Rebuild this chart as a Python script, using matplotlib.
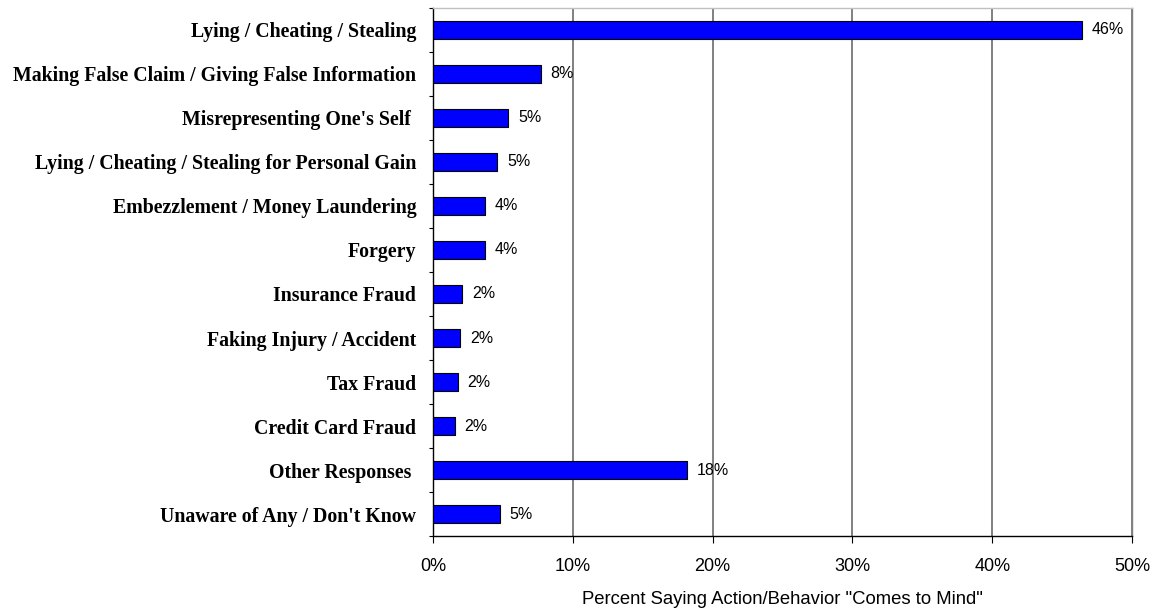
import numpy as np
import matplotlib
matplotlib.use('Agg')
import matplotlib.pyplot as plt
from matplotlib.ticker import FuncFormatter, FixedLocator

# survey responses, top to bottom
categories = [
    "Lying / Cheating / Stealing",
    "Making False Claim / Giving False Information",
    "Misrepresenting One's Self ",
    "Lying / Cheating / Stealing for Personal Gain",
    "Embezzlement / Money Laundering",
    "Forgery",
    "Insurance Fraud",
    "Faking Injury / Accident",
    "Tax Fraud",
    "Credit Card Fraud",
    "Other Responses ",
    "Unaware of Any / Don't Know",
]
pct = [46.4, 7.7, 5.4, 4.6, 3.7, 3.7, 2.1, 1.95, 1.77, 1.57, 18.2, 4.8]
x_ticks = [0, 10, 20, 30, 40, 50]
x_title = 'Percent Saying Action/Behavior "Comes to Mind"'

fig = plt.figure(figsize=(11.59, 6.10), dpi=100)
ax = fig.add_axes([0.3736, 0.1213, 0.6031, 0.8656])

y = np.arange(len(categories))
ax.barh(y, pct, height=0.43, color='#0000FF', edgecolor='black',
        linewidth=0.8, zorder=3)

# value labels just past the end of each bar
for yi, v in zip(y, pct):
    ax.annotate('%d%%' % round(v), xy=(v, yi), xytext=(7, 0),
                textcoords='offset points', ha='left', va='center',
                fontsize=11.5, family='Liberation Sans', zorder=4)

ax.set_xlim(0, 50)
ax.set_ylim(len(categories) - 0.5, -0.5)

ax.set_xticks(x_ticks)
ax.xaxis.set_major_formatter(FuncFormatter(lambda v, p: '%d%%' % v))
ax.tick_params(axis='x', direction='out', length=5, width=0.8, pad=11,
               labelsize=13)
for lab in ax.get_xticklabels():
    lab.set_family('Liberation Sans')
ax.xaxis.grid(True, color='#808080', linewidth=1.4, zorder=0)

ax.set_yticks(y)
ax.set_yticklabels(categories, fontsize=14.3, fontweight='bold',
                   family='Liberation Serif')
ax.tick_params(axis='y', which='major', length=0, pad=12)
ax.yaxis.set_minor_locator(FixedLocator(np.arange(len(categories) + 1) - 0.5))
ax.tick_params(axis='y', which='minor', direction='out', length=3, width=0.8)

ax.set_xlabel(x_title, fontsize=13.3, family='Liberation Sans', labelpad=11)

ax.spines['left'].set_color('black')
ax.spines['bottom'].set_color('black')
ax.spines['top'].set_color('#c0c0c0')
ax.spines['right'].set_color('#808080')
for s in ax.spines.values():
    s.set_linewidth(1.0)

fig.savefig('out.png', dpi=100, facecolor='white')
